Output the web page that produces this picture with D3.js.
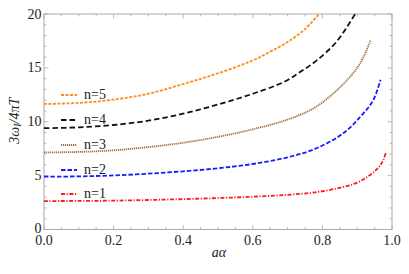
<!DOCTYPE html>
<html>
<head>
<meta charset="utf-8">
<script src="https://cdn.jsdelivr.net/npm/d3@7"></script>
<style>
  body { margin: 0; background: #fff; }
</style>
</head>
<body>
<div id="chart"></div>
<script>
// data
const x1 = [0, 0.1, 0.2, 0.3, 0.4, 0.5, 0.6, 0.7, 0.78, 0.86, 0.9, 0.93, 0.95, 0.965, 0.975, 0.983];
const y1 = [2.64, 2.65, 2.68, 2.74, 2.82, 2.92, 3.04, 3.22, 3.45, 3.95, 4.35, 4.9, 5.4, 5.9, 6.45, 7.2];

const x2 = [0, 0.1, 0.2, 0.3, 0.4, 0.5, 0.6, 0.7, 0.78, 0.86, 0.91, 0.946, 0.967];
const y2 = [4.9, 4.93, 5.02, 5.18, 5.4, 5.68, 6.08, 6.7, 7.5, 8.93, 10.5, 12.0, 13.9];

const x3 = [0, 0.1, 0.2, 0.3, 0.4, 0.5, 0.6, 0.7, 0.78, 0.86, 0.908, 0.939];
const y3 = [7.15, 7.2, 7.35, 7.65, 8.05, 8.6, 9.3, 10.2, 11.35, 13.5, 15.4, 17.6];

const x4 = [0, 0.1, 0.2, 0.3, 0.4, 0.5, 0.6, 0.69, 0.74, 0.784, 0.84, 0.894];
const y4 = [9.4, 9.48, 9.7, 10.1, 10.75, 11.6, 12.6, 13.7, 14.7, 15.7, 17.4, 20];

const x5 = [0, 0.1, 0.2, 0.3, 0.4, 0.5, 0.6, 0.65, 0.7, 0.75, 0.79];
const y5 = [11.65, 11.75, 12.05, 12.6, 13.5, 14.5, 15.7, 16.5, 17.4, 18.6, 20];

const seriesNames = ["n=1", "n=2", "n=3", "n=4", "n=5"];
const xTicks = [0, 0.2, 0.4, 0.6, 0.8, 1.0];
const yTicks = [0, 5, 10, 15, 20];

const width = 409;
const height = 274;
const margin = {left: 44, right: 17, top: 14, bottom: 44.5};
const serif = "'Liberation Serif', 'Times New Roman', 'DejaVu Serif', serif";

const svg = d3.select("#chart")
    .append("svg")
    .attr("width", width)
    .attr("height", height)
    .attr("font-family", serif);

const xScale = d3.scaleLinear()
    .domain([0, 1])
    .range([margin.left, width - margin.right]);

const yScale = d3.scaleLinear()
    .domain([0, 20])
    .range([height - margin.bottom, margin.top]);

const frameColor = "#aaa";

// frame
svg.append("rect")
    .attr("x", xScale(0))
    .attr("y", yScale(20))
    .attr("width", xScale(1) - xScale(0))
    .attr("height", yScale(0) - yScale(20))
    .attr("fill", "none")
    .attr("stroke", frameColor)
    .attr("stroke-width", 1);

// ticks on all 4 sides, pointing inwards
const xMinor = d3.range(0, 1.0001, 0.05);
const yMinor = d3.range(0, 20.0001, 1);

function isMajor(v, step) { return Math.abs(v / step - Math.round(v / step)) < 1e-6; }

const tickG = svg.append("g").attr("stroke", frameColor).attr("stroke-width", 0.8);
xMinor.forEach(v => {
  const len = isMajor(v, 0.2) ? 4.5 : 2.5;
  tickG.append("line").attr("x1", xScale(v)).attr("x2", xScale(v))
      .attr("y1", yScale(0)).attr("y2", yScale(0) - len);
  tickG.append("line").attr("x1", xScale(v)).attr("x2", xScale(v))
      .attr("y1", yScale(20)).attr("y2", yScale(20) + len);
});
yMinor.forEach(v => {
  const len = isMajor(v, 5) ? 4.5 : 2.5;
  tickG.append("line").attr("y1", yScale(v)).attr("y2", yScale(v))
      .attr("x1", xScale(0)).attr("x2", xScale(0) + len);
  tickG.append("line").attr("y1", yScale(v)).attr("y2", yScale(v))
      .attr("x1", xScale(1)).attr("x2", xScale(1) - len);
});

// tick labels
svg.append("g").selectAll("text")
    .data(xTicks)
    .enter()
    .append("text")
    .attr("x", d => xScale(d))
    .attr("y", yScale(0) + 15.5)
    .attr("text-anchor", "middle")
    .attr("font-family", serif)
    .attr("fill", "#222")
    .style("font-size", "14px")
    .text(d => d3.format(".1f")(d));

svg.append("g").selectAll("text")
    .data(yTicks)
    .enter()
    .append("text")
    .attr("x", xScale(0) - 2.5)
    .attr("y", d => yScale(d) + (d === 0 ? 3 : 4.5))
    .attr("text-anchor", "end")
    .attr("font-family", serif)
    .attr("fill", "#222")
    .style("font-size", "14px")
    .text(d => d);

// axis labels
svg.append("text")
    .attr("x", xScale(0.5) + 1)
    .attr("y", 257)
    .attr("text-anchor", "middle")
    .attr("font-family", serif)
    .attr("fill", "#222")
    .style("font-size", "14px")
    .style("font-style", "italic")
    .text("aα");

const yLab = svg.append("text")
    .attr("transform", `translate(19,${yScale(10) - 1}) rotate(-90)`)
    .attr("text-anchor", "middle")
    .attr("font-family", serif)
    .attr("fill", "#222")
    .style("font-size", "14px")
    .style("font-style", "italic");
yLab.append("tspan").text("3ω");
yLab.append("tspan").attr("dy", 2).style("font-size", "10px").text("I");
yLab.append("tspan").attr("dy", -2).text("/4πT");

// curves
const series = [
  {name: seriesNames[0], xs: x1, ys: y1, color: "#ff1a1a", dash: "4,1.6,1.2,1.6"},
  {name: seriesNames[1], xs: x2, ys: y2, color: "#1a1aff", dash: "4.5,2"},
  {name: seriesNames[2], xs: x3, ys: y3, color: "#a0703e", dash: "1.2,0.8"},
  {name: seriesNames[3], xs: x4, ys: y4, color: "#111111", dash: "5.5,3"},
  {name: seriesNames[4], xs: x5, ys: y5, color: "#ff8c1a", dash: "3,1.5"}
];

const line = d3.line()
    .x(d => xScale(d[0]))
    .y(d => yScale(d[1]))
    .curve(d3.curveCatmullRom.alpha(0.5));

svg.append("clipPath").attr("id", "clip")
    .append("rect")
    .attr("x", xScale(0)).attr("y", yScale(20))
    .attr("width", xScale(1) - xScale(0)).attr("height", yScale(0) - yScale(20));

svg.append("g").attr("clip-path", "url(#clip)")
    .selectAll("path")
    .data(series)
    .enter()
    .append("path")
    .attr("d", s => line(s.xs.map((x, i) => [x, s.ys[i]])))
    .attr("fill", "none")
    .attr("stroke", s => s.color)
    .attr("stroke-width", 1.8)
    .attr("stroke-dasharray", s => s.dash);

// legend
const legendY = [194, 170, 145, 120, 95];
const legend = svg.append("g").selectAll("g")
    .data(series)
    .enter()
    .append("g")
    .attr("transform", (s, i) => `translate(61,${legendY[i]})`);

legend.append("line")
    .attr("x1", 0).attr("x2", 16)
    .attr("y1", 0).attr("y2", 0)
    .attr("stroke", s => s.color)
    .attr("stroke-width", 1.8)
    .attr("stroke-dasharray", s => s.dash);

legend.append("text")
    .attr("x", 23)
    .attr("y", 3.5)
    .attr("font-family", serif)
    .attr("fill", "#222")
    .style("font-size", "14px")
    .text(s => s.name);
</script>
</body>
</html>
